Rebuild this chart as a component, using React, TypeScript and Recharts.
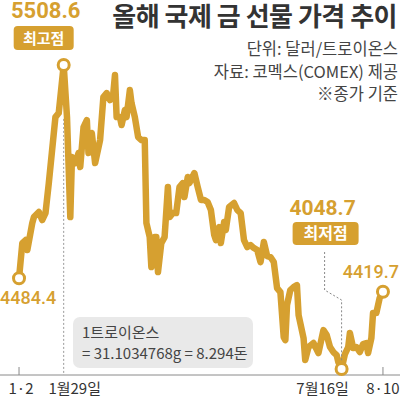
import React from 'react';
import { LineChart, Line, XAxis, YAxis, ReferenceLine } from 'recharts';

const GOLD = '#D6A030';
const KR = '"Noto Sans CJK KR", "Noto Sans", sans-serif';
const NUM = 'Roboto, "Noto Sans", sans-serif';

// calendar days since Jan 2
const days = [
  0, 2, 4, 5, 8, 9, 12, 14, 16, 18, 22, 24, 27, 29, 31, 32, 34, 36, 37, 39,
  41, 42, 44, 46, 49, 51, 53, 55, 57, 58, 59, 61, 62, 64, 65, 67, 68, 70, 72, 74,
  76, 77, 79, 80, 82, 83, 84, 86, 88, 90, 91, 93, 95, 97, 99, 100, 102, 103, 106, 108,
  110, 112, 114, 116, 118, 119, 121, 122, 124, 125, 127, 130, 132, 134, 136, 138, 140, 142, 144, 146,
  148, 150, 152, 154, 156, 158, 160, 161, 162, 164, 166, 168, 169, 172, 173, 175, 178, 181, 184, 186,
  188, 190, 192, 193, 195, 197, 199, 200, 202, 204, 206, 208, 210, 211, 213, 214, 216, 218, 220,
];

// 달러/트로이온스, 종가
const prices = [
  4484.4, 4653.7, 4668.1, 4620.0, 4749.7, 4778.5, 4802.6, 4764.1, 4797.8, 4941.8,
  5258.8, 5278.1, 5508.6, 5258.8, 4778.5, 5066.7, 5037.9, 5085.9, 5018.7, 5210.8,
  5244.4, 5085.9, 5182.0, 5037.9, 5148.4, 5354.9, 5374.1, 5340.5, 5374.1, 5460.6,
  5258.8, 5258.8, 5220.4, 5292.5, 5258.8, 5388.5, 5326.1, 5258.8, 5162.8, 5148.4,
  5148.4, 4749.7, 4682.5, 4538.4, 4682.5, 4682.5, 4514.4, 4653.7, 4682.5, 4922.6,
  4778.5, 4797.8, 4797.8, 4922.6, 4941.8, 4874.6, 4970.7, 4941.8, 4989.9, 4922.6,
  4860.2, 4860.2, 4850.6, 4812.2, 4692.1, 4668.1, 4730.5, 4653.7, 4754.5, 4716.1,
  4826.6, 4845.8, 4812.2, 4797.8, 4668.1, 4634.5, 4644.1, 4629.7, 4620.0, 4562.4,
  4658.5, 4591.2, 4586.4, 4562.4, 4437.5, 4418.3, 4202.2, 4187.8, 4355.9, 4427.9,
  4442.3, 4451.9, 4307.8, 4197.4, 4091.7, 4154.2, 4173.4, 4125.3, 4235.8, 4211.8,
  4154.2, 4130.1, 4115.7, 4082.1, 4048.7, 4120.5, 4154.2, 4221.4, 4149.4, 4154.2,
  4130.1, 4168.6, 4173.4, 4125.3, 4197.4, 4317.5, 4317.5, 4389.5, 4419.7,
];

const tickDays = [0, 27, 195, 220];
const tickLabels = ['1·2', '1월29일', '7월16일', '8·10'];
const tickShift = [2, 11, -19, 0];

const data = days.map((d, i) => ({ day: d, price: prices[i] }));
const peakIdx = prices.indexOf(Math.max(...prices));
const lowIdx = prices.indexOf(Math.min(...prices));
const lastIdx = prices.length - 1;

function AxisTick(props: any) {
  const { x, y, payload } = props;
  const i = tickDays.indexOf(payload.value);
  const edge = i === 0 || i === tickDays.length - 1;
  return (
    <g>
      {edge && <line x1={x} x2={x} y1={y} y2={y - 8} stroke="#8a8a8a" />}
      <text x={x + tickShift[i]} y={y + 19} textAnchor="middle" fontSize={15} fill="#333" fontFamily={KR}>
        {tickLabels[i]}
      </text>
    </g>
  );
}

function renderDot(props: any) {
  const { cx, cy, index } = props;
  const key = `dot-${index}`;
  if (index !== 0 && index !== peakIdx && index !== lowIdx && index !== lastIdx) return <g key={key} />;
  const v = prices[index].toFixed(1);
  const circle = <circle cx={cx} cy={cy} r={5.5} fill="#fff" stroke={GOLD} strokeWidth={3} />;

  if (index === peakIdx) {
    return (
      <g key={key}>
        <text x={cx - 18} y={cy - 47} textAnchor="middle" fontSize={22} fontWeight={700} fill={GOLD} fontFamily={NUM}>{v}</text>
        <rect x={cx - 50} y={cy - 39} width={60} height={24} rx={4} fill={GOLD} />
        <text x={cx - 20} y={cy - 21.5} textAnchor="middle" fontSize={15} fontWeight={700} fill="#fff" fontFamily={KR}>최고점</text>
        {circle}
      </g>
    );
  }
  if (index === lowIdx) {
    return (
      <g key={key}>
        <text x={cx - 19} y={cy - 154} textAnchor="middle" fontSize={21} fontWeight={700} fill={GOLD} fontFamily={NUM}>{v}</text>
        <rect x={cx - 49} y={cy - 147} width={66} height={23} rx={4} fill={GOLD} />
        <text x={cx - 16} y={cy - 130} textAnchor="middle" fontSize={16} fontWeight={700} fill="#fff" fontFamily={KR}>최저점</text>
        <polyline
          points={`${cx - 17},${cy - 117} ${cx - 17},${cy - 79} ${cx},${cy - 69} ${cx},${cy - 7}`}
          fill="none" stroke="#888" strokeWidth={1} strokeDasharray="2 2"
        />
        {circle}
      </g>
    );
  }
  if (index === 0) {
    return (
      <g key={key}>
        <text x={cx + 9} y={cy + 26} textAnchor="middle" fontSize={18} fontWeight={500} fill={GOLD} fontFamily={NUM}>{v}</text>
        {circle}
      </g>
    );
  }
  return (
    <g key={key}>
      <text x={cx + 16} y={cy - 14} textAnchor="end" fontSize={18} fontWeight={500} fill={GOLD} fontFamily={NUM}>{v}</text>
      {circle}
    </g>
  );
}

export default function App() {
  return (
    <div style={{ position: 'absolute', left: 0, top: 0, width: 400, height: 400, background: '#fff', fontFamily: KR }}>
      <LineChart width={400} height={400} data={data} margin={{ top: 40, right: 0, bottom: 0, left: 0 }}>
        <XAxis
          dataKey="day"
          type="number"
          domain={[-11.5, 230.3]}
          ticks={tickDays}
          interval={0}
          height={25}
          axisLine={{ stroke: '#8a8a8a' }}
          tickLine={false}
          tickSize={0}
          tickMargin={0}
          tick={<AxisTick />}
        />
        <YAxis hide domain={[4020, 5629]} />
        <ReferenceLine
          segment={[{ x: 27, y: 5250 }, { x: 27, y: 4020 }]}
          stroke="#999"
          strokeDasharray="2 2"
        />
        <Line
          type="linear"
          dataKey="price"
          stroke={GOLD}
          strokeWidth={6.5}
          strokeLinejoin="round"
          dot={renderDot}
          activeDot={false}
          isAnimationActive={false}
        />
      </LineChart>

      <div style={{ position: 'absolute', right: 3, top: 0, fontSize: 26, fontWeight: 700, color: '#333', lineHeight: '29px', letterSpacing: -0.5, whiteSpace: 'nowrap' }}>
        올해 국제 금 선물 가격 추이
      </div>
      <div style={{ position: 'absolute', right: 2, top: 37, fontSize: 16.5, color: '#444', lineHeight: '22.5px', textAlign: 'right', whiteSpace: 'nowrap' }}>
        <div>단위: 달러/트로이온스</div>
        <div>자료: 코멕스(COMEX) 제공</div>
        <div>※종가 기준</div>
      </div>
      <div style={{ position: 'absolute', left: 73, top: 317, width: 180, height: 51, background: '#e9e9e9', borderRadius: 7, boxSizing: 'border-box', padding: '4px 0 0 9px', fontSize: 15, color: '#444', lineHeight: '21px', whiteSpace: 'nowrap' }}>
        <div>1트로이온스</div>
        <div>= 31.1034768g = 8.294돈</div>
      </div>
    </div>
  );
}
